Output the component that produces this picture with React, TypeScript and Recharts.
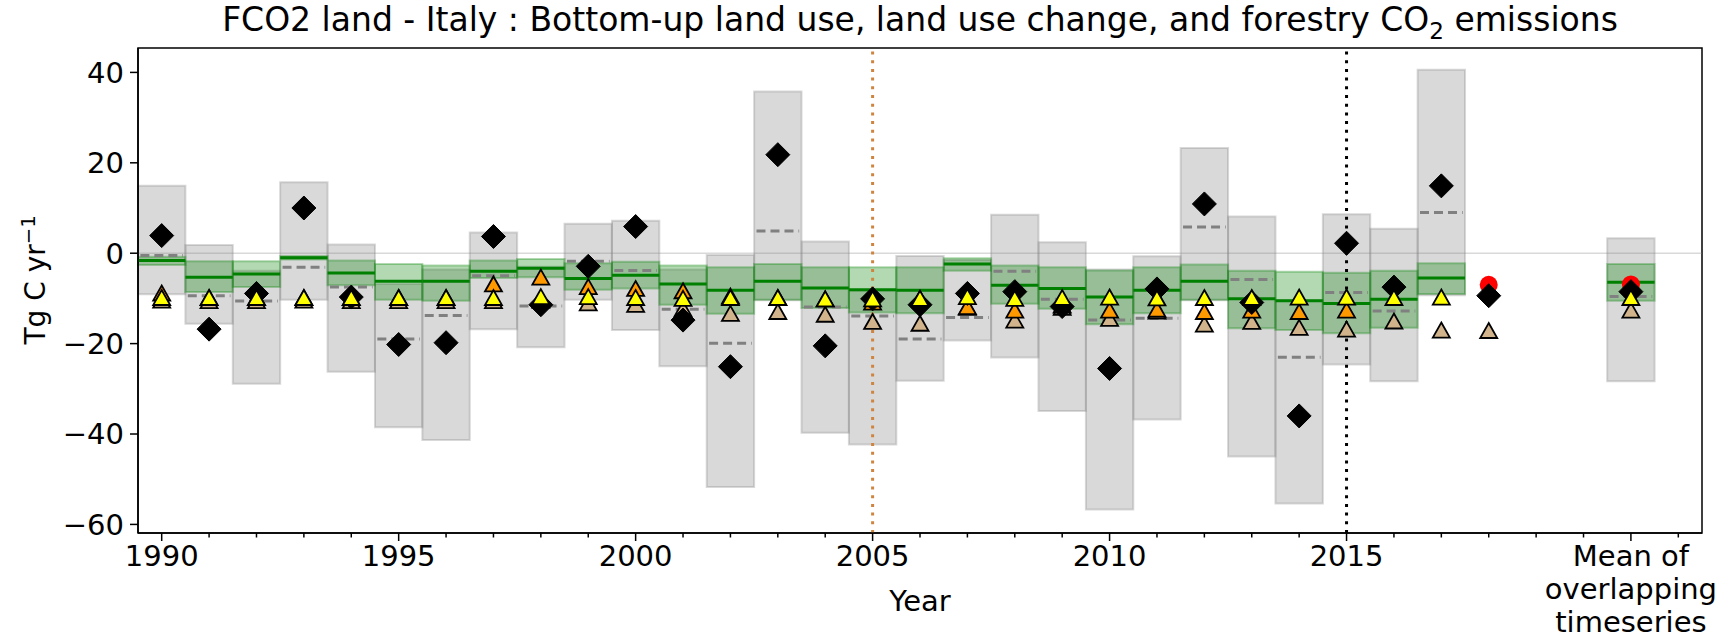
import React from 'react';
import { ComposedChart, XAxis, YAxis, Scatter, ReferenceArea, ReferenceLine } from 'recharts';

const years = [1990, 1991, 1992, 1993, 1994, 1995, 1996, 1997, 1998, 1999, 2000, 2001, 2002, 2003, 2004, 2005, 2006, 2007, 2008, 2009, 2010, 2011, 2012, 2013, 2014, 2015, 2016, 2017];
const grayMax = [14.9, 1.8, -3.9, 15.7, 1.9, -6.8, -3.6, 4.6, -3.0, 6.5, 7.2, -3.6, -0.4, 35.8, 2.6, -8.3, -0.6, -1.5, 8.5, 2.4, -3.6, -0.7, 23.3, 8.1, -10.4, 8.6, 5.4, 40.6];
const grayMin = [-9.1, -15.6, -28.9, -10.3, -26.2, -38.5, -41.3, -16.8, -20.8, -10.3, -17.0, -25.0, -51.7, -10.4, -39.7, -42.3, -28.2, -19.3, -23.1, -34.9, -56.7, -36.8, -10.4, -45.0, -55.4, -24.6, -28.3, -9.3];
const grayMedian = [-0.5, -9.4, -10.6, -3.1, -7.5, -19.0, -13.8, -5.0, -11.7, -1.8, -3.8, -12.4, -19.9, 4.9, -11.9, -13.9, -19.0, -14.2, -4.0, -10.2, -14.8, -14.4, 5.8, -5.8, -23.0, -8.7, -12.8, 9.0];
const greenMax = [-0.8, -1.8, -1.8, -0.6, -1.6, -2.4, -2.7, -1.6, -1.3, -2.2, -1.9, -2.7, -3.1, -2.4, -3.1, -3.1, -3.1, -1.1, -2.7, -3.1, -3.8, -3.1, -2.5, -3.9, -4.1, -4.3, -3.9, -2.2];
const greenMin = [-2.6, -8.6, -7.5, -1.4, -7.1, -10.3, -10.5, -5.5, -5.3, -8.1, -7.8, -11.4, -13.4, -10.3, -12.1, -13.1, -13.3, -3.9, -11.2, -12.3, -15.7, -13.3, -10.3, -16.6, -17.0, -17.7, -16.5, -9.0];
const greenMid = [-1.6, -5.3, -4.6, -1.0, -4.4, -6.2, -6.2, -4.0, -3.3, -5.6, -4.9, -6.8, -8.2, -6.2, -7.7, -8.1, -8.2, -2.4, -7.1, -7.8, -9.7, -8.2, -6.2, -10.1, -10.5, -11.1, -10.2, -5.5];

const diamondYears = [1990, 1991, 1992, 1993, 1994, 1995, 1996, 1997, 1998, 1999, 2000, 2001, 2002, 2003, 2004, 2005, 2006, 2007, 2008, 2009, 2010, 2011, 2012, 2013, 2014, 2015, 2016, 2017, 2018];
const diamondVals = [3.9, -16.8, -8.9, 10.0, -9.7, -20.2, -19.8, 3.7, -11.4, -2.9, 5.9, -14.8, -25.1, 21.8, -20.5, -10.1, -11.4, -8.9, -8.5, -11.8, -25.5, -7.9, 10.9, -10.9, -36.0, 2.2, -7.5, 14.9, -9.4];
const yellowVals = [-9.8, -9.8, -9.8, -9.8, -9.8, -9.8, -9.8, -9.8, -9.6, -9.6, -9.8, -10.0, -9.8, -9.8, -10.1, -10.1, -10.0, -9.6, -10.0, -9.8, -9.7, -9.9, -9.8, -9.8, -9.7, -9.7, -9.8, -9.7];
const orangeVals = [-8.8, -9.8, -9.8, -9.8, -9.8, -9.8, -9.8, -6.8, -5.3, -7.4, -7.8, -8.3, -9.5, -9.8, -10.1, -10.8, -10.0, -11.8, -12.6, -11.5, -12.6, -12.4, -12.9, -12.6, -12.9, -12.6];
const tanVals = [-10.4, -10.5, -10.5, -10.4, -10.5, -10.5, -10.5, -10.5, -10.4, -11.0, -11.3, -12.3, -13.3, -12.9, -13.5, -15.1, -15.5, -12.0, -14.8, -12.0, -14.4, -12.8, -15.7, -15.1, -16.4, -16.8, -15.0, -17.0, -17.1];
const redYears = [2018];
const redVals = [-7.0];

// "Mean of overlapping timeseries" column
const meanX = 2021;
const meanGray = [3.3, -28.3];
const meanMedian = -9.6;
const meanGreen = [-2.4, -10.5];
const meanGreenMid = -6.4;
const meanRed = -6.9;
const meanDiamond = -8.5;
const meanYellow = -9.8;
const meanTan = -12.6;

const xTicks = [1990, 1991, 1992, 1993, 1994, 1995, 1996, 1997, 1998, 1999, 2000, 2001, 2002, 2003, 2004, 2005, 2006, 2007, 2008, 2009, 2010, 2011, 2012, 2013, 2014, 2015, 2016, 2017, 2018, 2019, 2020, 2021, 2022];
const xTickLabels: Record<number, string[]> = {
  1990: ['1990'], 1995: ['1995'], 2000: ['2000'], 2005: ['2005'], 2010: ['2010'], 2015: ['2015'],
  2021: ['Mean of', 'overlapping', 'timeseries'],
};
const yTicks = [-60, -40, -20, 0, 20, 40];

const FONT = "'DejaVu Sans', sans-serif";
const TICK_FS = 29;

const pts = (xs: number[], ys: number[]) => ys.map((v, i) => ({ x: xs[i], y: v }));

const Diamond = (p: any) => {
  const { cx, cy } = p;
  const r = 12;
  return <path d={`M${cx},${cy - r}L${cx + r},${cy}L${cx},${cy + r}L${cx - r},${cy}Z`} fill="#000" stroke="#000" strokeWidth={1} />;
};
const makeTri = (fill: string) => (p: any) => {
  const { cx, cy } = p;
  const w = 8.5, h = 7.5;
  return <path d={`M${cx},${cy - h}L${cx + w},${cy + h}L${cx - w},${cy + h}Z`} fill={fill} stroke="#000" strokeWidth={1.8} strokeLinejoin="miter" />;
};
const RedDot = (p: any) => <circle cx={p.cx} cy={p.cy} r={9} fill="#ff0000" stroke="none" />;

const XTick = (props: any) => {
  const { x, y, payload } = props;
  const v = payload.value;
  const lines = xTickLabels[v];
  const len = lines ? 8 : 4.5;
  return (
    <g>
      <line x1={x} x2={x} y1={y} y2={y + len} stroke="#000" strokeWidth={1.5} />
      {lines && (
        <text x={x} y={y + 33} textAnchor="middle" fontSize={TICK_FS} fontFamily={FONT} fill="#000">
          {lines.map((l, i) => (
            <tspan key={i} x={x} dy={i === 0 ? 0 : 33}>{l}</tspan>
          ))}
        </text>
      )}
    </g>
  );
};

const allStats = years.map((yr, i) => ({
  x: yr, gMax: grayMax[i], gMin: grayMin[i], med: grayMedian[i], eMax: greenMax[i], eMin: greenMin[i], mid: greenMid[i],
})).concat([{ x: meanX, gMax: meanGray[0], gMin: meanGray[1], med: meanMedian, eMax: meanGreen[0], eMin: meanGreen[1], mid: meanGreenMid }]);

export default function App() {
  return (
    <div style={{ position: 'absolute', left: 0, top: 0, width: 1729, height: 642, background: '#fff', fontFamily: FONT }}>
      <div style={{ position: 'absolute', left: 138, width: 1564, top: 3, textAlign: 'center', fontSize: 33, lineHeight: 1, color: '#000', whiteSpace: 'nowrap' }}>
        FCO2 land - Italy : Bottom-up land use, land use change, and forestry CO<sub style={{ fontSize: '70%', lineHeight: 0 }}>2</sub> emissions
      </div>
      <div style={{ position: 'absolute', left: 36, top: 280, transform: 'translate(-50%, -50%) rotate(-90deg)', fontSize: 28, lineHeight: 1, whiteSpace: 'nowrap', color: '#000' }}>
        Tg C yr<sup style={{ fontSize: '70%', lineHeight: 0 }}>−1</sup>
      </div>
      <div style={{ position: 'absolute', left: 920, top: 601, transform: 'translate(-50%, -50%)', fontSize: TICK_FS, lineHeight: 1, whiteSpace: 'nowrap', color: '#000' }}>
        Year
      </div>
      <ComposedChart width={1729} height={642} margin={{ top: 48, right: 27, left: 0, bottom: 0 }}>
        <XAxis dataKey="x" type="number" domain={[1989.5, 2022.5]} allowDataOverflow ticks={xTicks} interval={0}
          tickLine={false} tickSize={0} tickMargin={0} height={109} axisLine={{ stroke: '#000', strokeWidth: 1.5 }} tick={<XTick />} />
        <YAxis type="number" domain={[-61.9, 45.4]} allowDataOverflow ticks={yTicks} width={138} tickSize={8} tickMargin={6}
          tickLine={{ stroke: '#000', strokeWidth: 1.5 }} axisLine={{ stroke: '#000', strokeWidth: 1.5 }}
          tick={{ fontSize: TICK_FS, fill: '#000', fontFamily: FONT }} tickFormatter={(v: number) => String(v).replace('-', '\u2212')} />

        {allStats.map((s) => (
          <ReferenceArea key={'g' + s.x} x1={s.x - 0.5} x2={s.x + 0.5} y1={s.gMin} y2={s.gMax}
            fill="#808080" fillOpacity={0.3} stroke="#808080" strokeOpacity={0.3} strokeWidth={2} />
        ))}
        {allStats.map((s) => (
          <ReferenceLine key={'m' + s.x} segment={[{ x: s.x - 0.45, y: s.med }, { x: s.x + 0.45, y: s.med }]}
            stroke="#808080" strokeWidth={3} strokeDasharray="9 5" />
        ))}
        {allStats.map((s) => (
          <ReferenceArea key={'e' + s.x} x1={s.x - 0.5} x2={s.x + 0.5} y1={s.eMin} y2={s.eMax}
            fill="#008000" fillOpacity={0.3} stroke="#008000" strokeOpacity={0.3} strokeWidth={2} />
        ))}
        {allStats.map((s) => (
          <ReferenceLine key={'l' + s.x} segment={[{ x: s.x - 0.5, y: s.mid }, { x: s.x + 0.5, y: s.mid }]}
            stroke="#008000" strokeWidth={3} />
        ))}
        <ReferenceLine y={0} stroke="#808080" strokeOpacity={0.3} strokeWidth={1.5} />
        <ReferenceLine x={2005} stroke="#cd853f" strokeWidth={3} strokeDasharray="3 5.7" />
        <ReferenceLine x={2015} stroke="#000" strokeWidth={3} strokeDasharray="3 5.7" />

        <Scatter data={pts(redYears, redVals).concat([{ x: meanX, y: meanRed }])} dataKey="y" shape={RedDot} isAnimationActive={false} />
        <Scatter data={pts(diamondYears, tanVals).concat([{ x: meanX, y: meanTan }])} dataKey="y" shape={makeTri('#d2b48c')} isAnimationActive={false} />
        <Scatter data={pts(years, orangeVals)} dataKey="y" shape={makeTri('#ff9900')} isAnimationActive={false} />
        <Scatter data={pts(diamondYears, diamondVals).concat([{ x: meanX, y: meanDiamond }])} dataKey="y" shape={Diamond} isAnimationActive={false} />
        <Scatter data={pts(years, yellowVals).concat([{ x: meanX, y: meanYellow }])} dataKey="y" shape={makeTri('#ffff00')} isAnimationActive={false} />

        <ReferenceArea x1={1989.5} x2={2022.5} y1={-61.9} y2={45.4} fill="none" stroke="#000" strokeWidth={1.5} />
      </ComposedChart>
    </div>
  );
}
